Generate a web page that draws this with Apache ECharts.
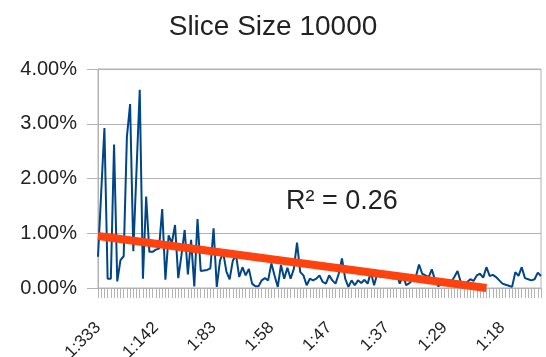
<!DOCTYPE html>
<html>
<head>
<meta charset="utf-8">
<script src="https://cdn.jsdelivr.net/npm/echarts@6/dist/echarts.min.js"></script>
<style>
  html, body { margin: 0; padding: 0; background: #ffffff; }
  #chart { width: 546px; height: 357px; }
</style>
</head>
<body>
<div id="chart"></div>
<script>
// Share of slices (percent) per sampling ratio, slice size 10000
const values = [
  0.57, 1.75, 2.92, 0.17, 0.17, 2.62, 0.12, 0.51, 0.58, 2.76,
  3.36, 0.67, 2.15, 3.62, 0.17, 1.67, 0.66, 0.66, 0.70, 0.72,
  1.44, 0.15, 0.96, 0.82, 1.15, 0.18, 0.60, 1.06, 0.25, 0.88,
  0.03, 1.26, 0.31, 0.32, 0.33, 0.36, 1.09, 0.02, 0.50, 0.65,
  0.30, 0.16, 0.50, 0.60, 0.20, 0.38, 0.23, 0.35, 0.08, 0.03,
  0.03, 0.14, 0.18, 0.14, 0.45, 0.23, 0.02, 0.42, 0.17, 0.37,
  0.17, 0.35, 0.83, 0.29, 0.23, 0.05, 0.17, 0.14, 0.17, 0.23,
  0.11, 0.08, 0.23, 0.14, 0.08, 0.26, 0.54, 0.17, 0.02, 0.14,
  0.05, 0.14, 0.09, 0.15, 0.08, 0.29, 0.05, 0.26, 0.20, 0.26,
  0.29, 0.23, 0.17, 0.26, 0.08, 0.23, 0.05, 0.09, 0.14, 0.20,
  0.43, 0.26, 0.23, 0.20, 0.34, 0.14, 0.03, 0.08, 0.05, 0.09,
  0.11, 0.20, 0.31, 0.11, 0.05, 0.11, 0.16, 0.13, 0.23, 0.26,
  0.19, 0.38, 0.22, 0.24, 0.20, 0.14, 0.08, 0.06, 0.04, 0.02,
  0.29, 0.22, 0.38, 0.18, 0.16, 0.14, 0.16, 0.28, 0.22
];

// Ratio labels shown on the category axis, one every labelStep categories
const tickLabels = ['1:333', '1:142', '1:83', '1:58', '1:47', '1:37', '1:29', '1:18'];
const labelStep = 18;

// Linear trend: category index and value at both ends (it stops where it meets 0 %)
const trendX = [0, 121];
const trendY = [0.95, 0];
const rSquared = '0.26';

const categories = values.map((_, i) => String(i));
const trendData = trendX.map((x, i) => [x, trendY[i]]);

const axisGray = '#b3b3b3';
const textColor = '#222222';
const font = '"Liberation Sans", Arial, sans-serif';

const chart = echarts.init(document.getElementById('chart'), null, { renderer: 'canvas' });
chart.setOption({
  backgroundColor: '#ffffff',
  animation: false,
  title: {
    text: 'Slice Size 10000',
    left: 'center',
    top: 8,
    textStyle: { fontFamily: font, fontSize: 28, fontWeight: 'normal', color: textColor }
  },
  graphic: [{
    type: 'text',
    left: 286,
    top: 188,
    style: {
      text: 'R² = ' + rSquared,
      font: '27px ' + font,
      fill: textColor
    }
  }],
  grid: {
    left: 98, right: 5, top: 69, bottom: 69,
    containLabel: false,
    outerBoundsMode: 'none',
    show: true, borderColor: axisGray, borderWidth: 1
  },
  xAxis: {
    type: 'category',
    data: categories,
    boundaryGap: false,
    axisLine: { show: true, lineStyle: { color: axisGray } },
    axisTick: { show: true, interval: 0, length: 10, lineStyle: { color: axisGray } },
    axisLabel: {
      interval: labelStep - 1,
      rotate: 45,
      margin: 37,
      fontFamily: font,
      fontSize: 17,
      color: textColor,
      formatter: (v, i) => tickLabels[i / labelStep] || ''
    },
    splitLine: { show: false }
  },
  yAxis: {
    type: 'value',
    min: 0,
    max: 4,
    interval: 1,
    axisLine: { show: true, lineStyle: { color: axisGray } },
    axisTick: { show: true, length: 11, lineStyle: { color: axisGray } },
    axisLabel: {
      margin: 21,
      fontFamily: font,
      fontSize: 20,
      color: textColor,
      formatter: v => v.toFixed(2) + '%'
    },
    splitLine: { show: true, lineStyle: { color: axisGray, width: 1 } }
  },
  series: [
    {
      type: 'line',
      data: values,
      symbol: 'none',
      lineStyle: { color: '#004586', width: 2 },
      z: 2
    },
    {
      type: 'line',
      data: trendData,
      symbol: 'none',
      clip: false,
      lineStyle: { color: '#ff420e', width: 8, cap: 'butt' },
      z: 3
    }
  ]
});
</script>
</body>
</html>
